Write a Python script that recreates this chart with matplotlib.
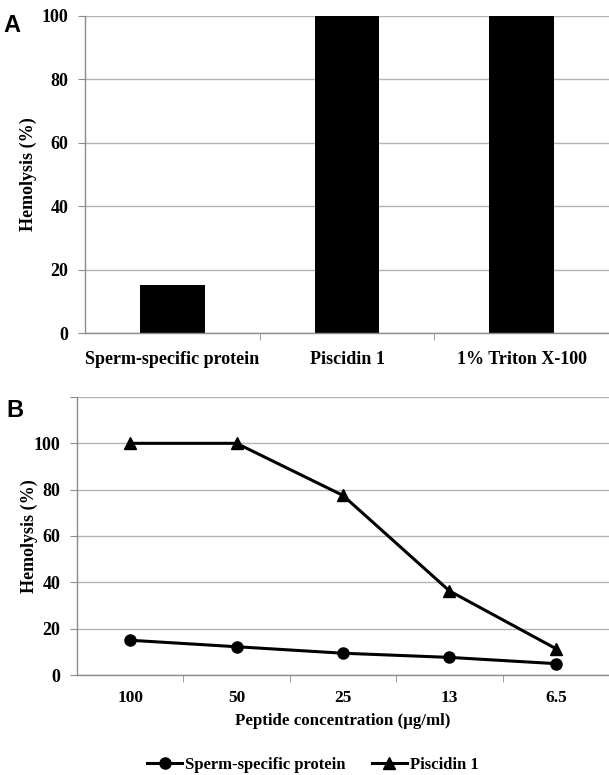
import matplotlib
matplotlib.use("Agg")
import matplotlib.pyplot as plt
from matplotlib.ticker import FixedLocator, NullFormatter

# panel A: hemolysis at top dose
treatments = ["Sperm-specific protein", "Piscidin 1", "1% Triton X-100"]
hemolysis_a = [15, 100, 100]

# panel B: dose response
concentrations = ["100", "50", "25", "13", "6.5"]
sperm_protein = [15, 12.2, 9.4, 7.6, 4.9]
piscidin = [100, 100, 77.5, 36.3, 11.4]

SERIF = "Liberation Serif"
GRID = "#b4b4b4"
SPINE = "#8c8c8c"

plt.rcParams["font.family"] = SERIF
plt.rcParams["font.weight"] = "bold"

fig = plt.figure(figsize=(6.09, 7.75), dpi=100)


def style_axes(ax, xsize):
    for side in ("top", "right"):
        ax.spines[side].set_visible(False)
    for side in ("left", "bottom"):
        ax.spines[side].set_color(SPINE)
        ax.spines[side].set_linewidth(1.0)
    ax.yaxis.grid(True, color=GRID, linewidth=1.0)
    ax.set_axisbelow(True)
    ax.tick_params(axis="y", direction="out", length=5, color=SPINE, labelsize=13, pad=7)
    ax.tick_params(axis="x", which="both", length=0, labelsize=xsize)
    ax.tick_params(axis="x", which="minor", direction="out", length=5, color=SPINE)
    for lab in ax.get_xticklabels() + ax.get_yticklabels():
        lab.set_fontweight("bold")


# ---- panel A ----
ax1 = fig.add_axes([85 / 609, 1 - 333 / 775, 524 / 609, 317 / 775])
xa = range(len(treatments))
ax1.bar(xa, hemolysis_a, width=0.37, color="black")
ax1.set_xlim(-0.5, len(treatments) - 0.5)
ax1.set_ylim(0, 100)
ax1.set_yticks([0, 20, 40, 60, 80, 100])
ax1.set_xticks(list(xa))
ax1.set_xticklabels(treatments)
ax1.xaxis.set_minor_locator(FixedLocator([0.5, 1.5]))
ax1.xaxis.set_minor_formatter(NullFormatter())
style_axes(ax1, 13)
ax1.tick_params(axis="x", which="major", pad=13)
ax1.set_ylabel("Hemolysis (%)", fontsize=13, fontweight="bold", labelpad=3)
fig.text(3 / 609, 1 - 32 / 775, "A", family="Liberation Sans", fontsize=17, fontweight="bold")

# ---- panel B ----
ax2 = fig.add_axes([77 / 609, 1 - 675 / 775, 532 / 609, 278 / 775])
xb = range(len(concentrations))
ax2.plot(xb, sperm_protein, color="black", lw=2.2, marker="o", ms=8,
         label="Sperm-specific protein")
ax2.plot(xb, piscidin, color="black", lw=2.2, marker="^", ms=8,
         label="Piscidin 1")
ax2.set_xlim(-0.5, len(concentrations) - 0.5)
ax2.set_ylim(0, 120)
ax2.set_yticks([0, 20, 40, 60, 80, 100, 120])
ax2.set_yticklabels(["0", "20", "40", "60", "80", "100", ""])
ax2.set_xticks(list(xb))
ax2.set_xticklabels(concentrations)
ax2.xaxis.set_minor_locator(FixedLocator([0.5, 1.5, 2.5, 3.5]))
ax2.xaxis.set_minor_formatter(NullFormatter())
style_axes(ax2, 12.5)
ax2.tick_params(axis="x", which="major", pad=11)
ax2.set_ylabel("Hemolysis (%)", fontsize=13, fontweight="bold", labelpad=-3)
ax2.set_xlabel("Peptide concentration (\u00b5g/ml)", fontsize=12.2, fontweight="bold", labelpad=5)
fig.text(6 / 609, 1 - 417 / 775, "B", family="Liberation Sans", fontsize=17, fontweight="bold")

fig.legend(loc="center", bbox_to_anchor=(313 / 609, 1 - 765 / 775), ncol=2,
           frameon=False, prop={"family": SERIF, "weight": "bold", "size": 12},
           handlelength=2.1, columnspacing=1.55, handletextpad=0.2)

fig.savefig("out.png", dpi=100)
